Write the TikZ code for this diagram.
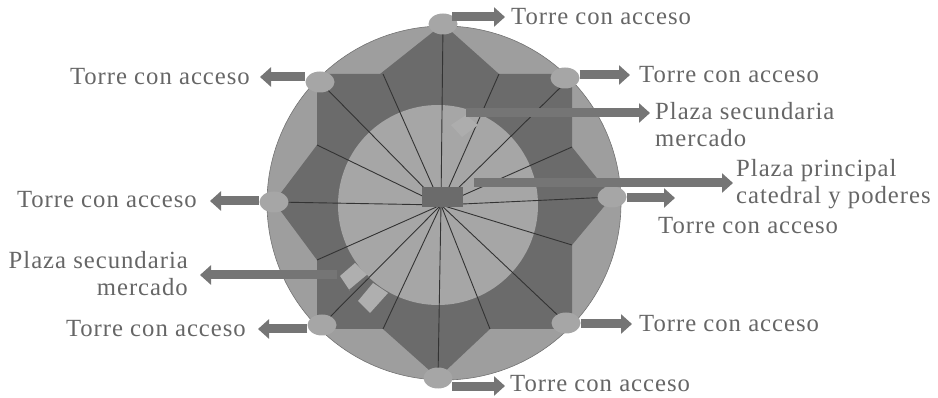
\documentclass[tikz,border=0pt]{standalone}
\usepackage{fontspec}
\setmainfont[LetterSpace=4]{Liberation Serif}
\usetikzlibrary{arrows.meta,shapes.geometric}
\definecolor{muro}{gray}{0.62}
\definecolor{oscuro}{gray}{0.42}
\definecolor{plaza}{gray}{0.65}
\definecolor{texto}{gray}{0.40}
\definecolor{barra}{gray}{0.46}
\tikzset{
	torre/.style={ellipse,fill=plaza,minimum width=29pt,minimum height=21pt,inner sep=0pt},
	rotulo/.style={text=texto,font=\fontsize{24.7}{27}\selectfont,inner sep=0pt,align=left},
	flecha/.style={draw=barra,line width=9pt,-{Triangle[length=11pt,width=19pt]}},
	radio/.style={draw=black!80,line width=0.9pt}
}
\begin{document}
\begin{tikzpicture}[x=1pt,y=-1pt,line join=round]
	\useasboundingbox (0,0) rectangle (938,398);
	\def\r{177}
	\coordinate (o) at (441,205);
	\fill[muro] (444,203) circle (\r);
	\draw[black!55,line width=0.6pt] (444,203) circle (\r);
	% estrella
	\fill[oscuro] (443,24)--(499,74)--(572,74)--(572,147)--(612,197)--(572,245)--(572,313)--(566,323)--(557,329)--(490,329)--(438,378)--(383,329)--(317,329)--(317,260)--(274,202)--(317,145)--(317,74)--(380,74)--cycle;
	\fill[plaza] (438,205) circle (100);
	\foreach \p in {(443,24),(499,74),(566,82),(572,147),(612,197),(572,245),(566,323),(490,329),(438,378),(383,329),(322,325),(317,260),(274,202),(317,145),(320,82),(383,74)}{
		\draw[radio] (o)--\p;}
	% plazas
	\fill[plaza!90!white] (340,276)--(355,263)--(368,276)--(350,291)--cycle;
	\fill[plaza!90!white] (358,301)--(373,283)--(388,293)--(370,313)--cycle;
	\draw[oscuro,line width=3pt] (350,291)--(368,276);
	\fill[plaza!92!white] (451,125)--(466,115)--(478,125)--(462,137)--cycle;
	\node[fill=oscuro,minimum width=41pt,minimum height=20pt,inner sep=0pt] (c) at (442.5,197) {};
	% torres
	\node[torre] (t1) at (443,24) {};
	\node[torre] (t2) at (565,78) {};
	\node[torre] (t3) at (612,197) {};
	\node[torre] (t4) at (566,323) {};
	\node[torre] (t5) at (438,378) {};
	\node[torre] (t6) at (322,325) {};
	\node[torre] (t7) at (274,202) {};
	\node[torre] (t8) at (320,82) {};
	% rotulos
	\node[rotulo,anchor=west] (l1) at (511,17) {Torre con acceso};
	\node[rotulo,anchor=west] (l2) at (639,75) {Torre con acceso};
	\node[rotulo,anchor=west] (l3) at (658,226) {Torre con acceso};
	\node[rotulo,anchor=west] (l4) at (639,324) {Torre con acceso};
	\node[rotulo,anchor=west] (l5) at (510,384) {Torre con acceso};
	\node[rotulo,anchor=east] (l6) at (246,329) {Torre con acceso};
	\node[rotulo,anchor=east] (l7) at (197,200) {Torre con acceso};
	\node[rotulo,anchor=east] (l8) at (250,77) {Torre con acceso};
	\node[rotulo,anchor=west] (s1) at (655,125) {Plaza secundaria\\mercado};
	\node[rotulo,anchor=west] (s2) at (736,184) {Plaza principal\\catedral y poderes};
	\node[rotulo,anchor=east,align=right] (s3) at (188,274) {Plaza secundaria\\mercado};
	% flechas
	\coordinate (p1) at (466,113);
	\coordinate (p2) at (474,183);
	\coordinate (p3) at (337,275);
	\coordinate (e1) at (505,17);
	\coordinate (e2) at (630,75);
	\coordinate (e3) at (675,198);
	\coordinate (e4) at (632,324);
	\coordinate (e5) at (505,386);
	\coordinate (e6) at (258,329);
	\coordinate (e7) at (210,201);
	\coordinate (e8) at (260,77);
	\coordinate (e9) at (650,113);
	\coordinate (e10) at (733,183);
	\coordinate (e11) at (200,275);
	\foreach \t/\e in {t2/e2,t3/e3,t4/e4}{
		\draw[flecha] (\t.east |- \e) -- (\e);}
	\foreach \t/\e in {t6/e6,t7/e7,t8/e8}{
		\draw[flecha] (\t.west |- \e) -- (\e);}
	\draw[flecha] (452,17) -- (e1);
	\draw[flecha] (452,386) -- (e5);
	\draw[flecha] (p1) -- (e9);
	\draw[flecha] (p2) -- (e10);
	\draw[flecha] (p3) -- (e11);
\end{tikzpicture}
\end{document}
